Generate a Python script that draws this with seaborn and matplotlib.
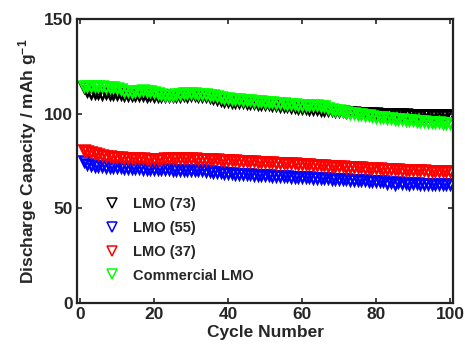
import numpy as np
import pandas as pd
import matplotlib
matplotlib.use("Agg")
import matplotlib.pyplot as plt
import seaborn as sns

# Cycle index and discharge capacities (mAh g^-1) for each electrode
cycles = list(range(1, 101))

lmo_73 = [
    114.3, 111.8, 111.0, 110.8, 110.9, 110.6, 110.7, 110.4, 110.5, 110.2,
    110.3, 110.0, 110.1, 109.8, 109.9, 109.6, 109.8, 109.5, 109.6, 109.4,
    109.3, 109.5, 109.2, 109.4, 109.1, 109.3, 109.4, 109.6, 109.5, 109.7,
    109.6, 109.4, 109.5, 109.1, 108.6, 108.1, 107.6, 107.2, 106.9, 106.6,
    106.4, 106.2, 106.0, 105.9, 105.7, 105.6, 105.4, 105.3, 105.2, 105.0,
    104.9, 104.7, 104.5, 104.3, 104.0, 103.8, 103.5, 103.3, 103.1, 102.9,
    102.8, 102.6, 102.5, 102.3, 102.2, 102.1, 102.0, 101.8, 101.6, 101.4,
    101.2, 101.0, 100.8, 100.7, 100.6, 100.5, 100.4, 100.3, 100.2, 100.1,
    100.0, 99.9, 99.9, 99.8, 99.7, 99.7, 99.6, 99.6, 99.5, 99.5,
    99.4, 99.4, 99.3, 99.3, 99.3, 99.2, 99.2, 99.2, 99.1, 99.1,
]

lmo_55 = [
    75.0, 73.4, 72.8, 72.5, 72.3, 72.1, 72.0, 71.9, 71.8, 71.7,
    71.6, 71.5, 71.4, 71.3, 71.2, 71.1, 71.0, 70.9, 70.9, 70.8,
    70.7, 70.7, 70.6, 70.6, 70.5, 70.5, 70.4, 70.4, 70.3, 70.3,
    70.2, 70.1, 70.0, 69.8, 69.6, 69.4, 69.2, 69.0, 68.8, 68.6,
    68.4, 68.3, 68.2, 68.1, 68.0, 67.9, 67.8, 67.7, 67.6, 67.5,
    67.4, 67.3, 67.2, 67.1, 67.0, 66.9, 66.8, 66.7, 66.6, 66.5,
    66.4, 66.3, 66.2, 66.1, 66.0, 65.9, 65.8, 65.7, 65.6, 65.5,
    65.4, 65.3, 65.2, 65.1, 65.0, 64.9, 64.8, 64.6, 64.5, 64.4,
    64.3, 64.2, 63.2, 64.0, 63.0, 63.7, 63.6, 63.5, 62.9, 63.3,
    63.2, 63.1, 63.0, 62.9, 62.9, 62.8, 62.8, 62.7, 62.7, 62.6,
]

lmo_37 = [
    80.6, 80.3, 80.0, 79.4, 78.8, 78.3, 77.9, 77.6, 77.3, 77.1,
    76.9, 76.7, 76.6, 76.5, 76.5, 76.4, 76.4, 76.3, 76.3, 76.3,
    76.2, 76.3, 76.4, 76.5, 76.5, 76.6, 76.6, 76.6, 76.5, 76.5,
    76.4, 76.3, 76.2, 76.1, 76.0, 75.9, 75.8, 75.7, 75.6, 75.5,
    75.4, 75.3, 75.2, 75.1, 75.0, 74.9, 74.8, 74.7, 74.6, 74.5,
    74.4, 74.3, 74.2, 74.1, 74.0, 73.9, 73.8, 73.7, 73.5, 73.4,
    73.3, 73.2, 73.0, 72.9, 72.8, 72.7, 72.5, 72.4, 72.3, 72.2,
    72.1, 72.0, 71.9, 71.8, 71.7, 71.6, 71.5, 71.4, 71.3, 71.2,
    71.1, 71.0, 70.9, 70.8, 70.7, 70.6, 70.5, 70.4, 70.3, 70.2,
    70.1, 70.0, 70.0, 69.9, 69.9, 69.8, 69.8, 69.8, 69.7, 69.7,
]

commercial = [
    114.6, 114.5, 114.6, 114.5, 114.4, 114.5, 114.3, 114.2, 113.9, 113.4,
    112.8, 112.2, 111.8, 111.7, 111.9, 112.1, 112.3, 112.2, 112.0, 111.6,
    111.0, 110.4, 110.0, 109.9, 110.1, 110.4, 110.6, 110.7, 110.8, 110.8,
    110.7, 110.6, 110.5, 110.3, 110.0, 109.6, 109.2, 108.8, 108.5, 108.2,
    108.0, 107.8, 107.6, 107.4, 107.2, 107.0, 106.9, 106.7, 106.5, 106.4,
    106.2, 106.0, 105.8, 105.6, 105.4, 105.2, 105.0, 104.9, 104.8, 104.7,
    104.6, 104.6, 104.5, 104.4, 104.2, 103.8, 103.2, 102.6, 102.1, 101.7,
    101.3, 100.9, 100.6, 100.3, 100.0, 99.7, 99.4, 99.1, 98.8, 98.5,
    98.2, 98.0, 97.8, 97.6, 97.4, 97.2, 97.0, 96.8, 96.6, 96.4,
    96.2, 96.0, 95.9, 95.8, 95.6, 95.5, 95.4, 95.3, 95.2, 95.3,
]

labels = ["LMO (73)", "LMO (55)", "LMO (37)", "Commercial LMO"]
colors = ["#000000", "#0000ff", "#ff0000", "#00ff00"]
series = [lmo_73, lmo_55, lmo_37, commercial]

x_ticks = [0, 20, 40, 60, 80, 100]
y_ticks = [0, 50, 100, 150]

sns.set_style("ticks")
plt.rcParams["font.family"] = ["Liberation Sans", "DejaVu Sans"]
plt.rcParams["font.weight"] = "bold"
plt.rcParams["mathtext.fontset"] = "custom"
plt.rcParams["mathtext.rm"] = "Liberation Sans:bold"
plt.rcParams["mathtext.default"] = "rm"

fig = plt.figure(figsize=(4.65, 3.53), dpi=100)
ax = fig.add_axes([77.4 / 465, 50 / 353, (453 - 77.4) / 465, 284 / 353])

for vals, lab, col in zip(series, labels, colors):
    df = pd.DataFrame({"Cycle": cycles, "Capacity": vals})
    sns.lineplot(
        data=df, x="Cycle", y="Capacity", ax=ax, color=col, label=lab,
        linestyle="", marker="v", markersize=7, markerfacecolor="none",
        markeredgecolor=col, markeredgewidth=1.8, legend=False,
    )

ax.set_xlim(-0.7, 100.8)
ax.set_ylim(0, 150)
ax.set_xticks(x_ticks)
ax.set_yticks(y_ticks)
ax.tick_params(direction="in", length=3.5, width=1.2, labelsize=12.5,
               top=True, right=True, pad=3)
for lbl in ax.get_xticklabels() + ax.get_yticklabels():
    lbl.set_fontweight("bold")
for sp in ax.spines.values():
    sp.set_linewidth(1.6)
    sp.set_color("#222222")

ax.set_xlabel("Cycle Number", fontsize=12.5, fontweight="bold", labelpad=2)
ax.set_ylabel("Discharge Capacity / mAh g$^{-1}$", fontsize=12.5,
              fontweight="bold", labelpad=4)

handles = ax.get_lines()
leg = ax.legend(handles=handles, labels=labels, loc="upper left",
                bbox_to_anchor=(0.062, 0.374), frameon=False,
                borderaxespad=0, borderpad=0, handlelength=1.5,
                handletextpad=0.7, labelspacing=0.68,
                prop={"weight": "bold", "size": 10.5})
for h in leg.legend_handles:
    h.set_markeredgewidth(1.1)
    h.set_markersize(7.5)

fig.savefig("out.png", dpi=100)
